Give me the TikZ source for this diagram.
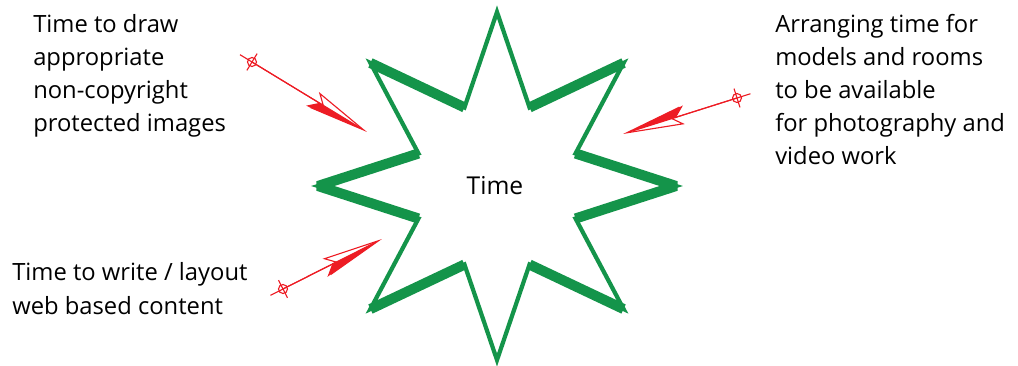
\documentclass[tikz,border=0pt]{standalone}
\usepackage{fontspec}
\setmainfont{Open Sans}
\usetikzlibrary{arrows.meta,calc}
\definecolor{stargreen}{HTML}{14944A}
\definecolor{leadred}{HTML}{ED1C24}
\tikzset{
  label/.style={
    font=\fontsize{16.9}{23.5}\selectfont, align=left,
    anchor=base west, inner sep=0pt, text=black
  },
  thinedge/.style={draw=stargreen, line width=3pt, line join=miter},
  thickedge/.style={draw=stargreen, line width=7.2pt, line join=bevel},
  leadline/.style={draw=leadred, line width=0.8pt},
  openhead/.style={
    -{Stealth[open, length=44pt, width=13pt, inset=7pt]}
  },
  halfhead/.style={
    -{Stealth[harpoon, swap, length=44pt, width=13pt, inset=7pt, fill=leadred]}
  },
  target/.style={
    circle, draw=leadred, line width=0.8pt, minimum size=6.4pt, inner sep=0pt
  }
}
\begin{document}
\begin{tikzpicture}[x=0.025cm, y=-0.025cm]
  \useasboundingbox (0,0) rectangle (1018,366);

  % Centre of the star
  \node[font=\fontsize{17.5}{20}\selectfont] (time) at (495,186) {Time};
  \foreach \k in {0,...,7} {
    \coordinate (o\k) at ($(497,186)+(\k*45:179 and 174)$);
    \coordinate (i\k) at ($(497,186)+(\k*45+22.5:85)$);
  }

  % Star outline
  \draw[thinedge] (o0) -- (i0) -- (o1) -- (i1) -- (o2) -- (i2) -- (o3) -- (i3)
    -- (o4) -- (i4) -- (o5) -- (i5) -- (o6) -- (i6) -- (o7) -- (i7) -- cycle;
  \draw[thickedge] (i7) -- (o0) -- (i0);
  \draw[thickedge] (i3) -- (o4) -- (i4);
  \draw[thickedge] (i1) -- (o1);
  \draw[thickedge] (i2) -- (o3);
  \draw[thickedge] (i5) -- (o5);
  \draw[thickedge] (i6) -- (o7);

  % Labels (anchored at the baseline of the last line)
  \node[label] (draw)    at (33,132)  {Time to draw\\appropriate\\non-copyright\\protected images};
  \node[label] (arrange) at (775,165) {Arranging time for\\models and rooms\\to be available\\for photography and\\video work};
  \node[label] (write)   at (12,314)  {Time to write / layout\\web based content};

  % Pointers
  \node[target] (tailDraw)    at (252,62)  {};
  \node[target] (tailArrange) at (737,98)  {};
  \node[target] (tailWrite)   at (283,289) {};
  \coordinate (tipDraw)    at (367,132);
  \coordinate (tipArrange) at (623,134);
  \coordinate (tipWrite)   at (382,239);

  \foreach \t in {Draw,Arrange,Write} {
    \draw[leadline, openhead] ($(tail\t.center)!-10pt!(tip\t)$) -- (tip\t);
    \draw[leadline, halfhead] (tail\t.center) -- (tip\t);
    \draw[leadline] ($(tail\t.center)!7pt!90:(tip\t)$) -- ($(tail\t.center)!7pt!-90:(tip\t)$);
  }
\end{tikzpicture}
\end{document}
